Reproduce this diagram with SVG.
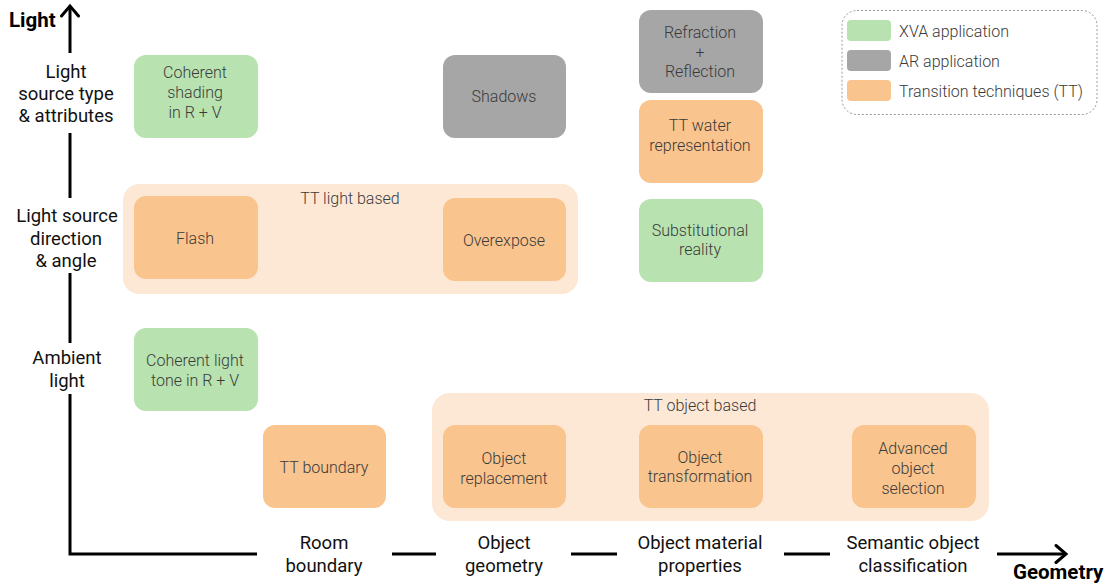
<svg xmlns="http://www.w3.org/2000/svg" width="1107" height="585" viewBox="0 0 1107 585">
<style>
text{font-family:Roboto,"Liberation Sans",sans-serif}
.n{font-size:16px;fill:#3a3a3a;text-anchor:middle;font-weight:300}
.ax{font-size:18.5px;fill:#111;text-anchor:middle}
.b{font-size:20.5px;font-weight:700;fill:#000}
.g{fill:#b8e2b0}
.a{fill:#a6a6a6}
.o{fill:#f9c48d}
.grp{fill:#fde8d6}
.axis{stroke:#000;stroke-width:3;fill:none}
.lg{font-size:16px;fill:#3a3a3a;font-weight:300}
</style>
<defs>
<marker id="ah" viewBox="0 0 20 20" refX="15" refY="10" markerWidth="20" markerHeight="20" markerUnits="userSpaceOnUse" orient="auto-start-reverse">
<path d="M5,1.5 L15,10 L5,18.5" fill="none" stroke="#000" stroke-width="3" stroke-linecap="round" stroke-linejoin="miter"/>
</marker>
</defs>
<rect width="1107" height="585" fill="#fff"/>
<g id="connectors">
<path class="axis" d="M70,53 V6" marker-end="url(#ah)"/>
<path class="axis" d="M70,133 V198"/>
<path class="axis" d="M70,273 V343"/>
<path class="axis" d="M70,394 V554 H257"/>
<path class="axis" d="M392,554 H436"/>
<path class="axis" d="M571,554 H617"/>
<path class="axis" d="M784,554 H830"/>
<path class="axis" d="M997,554 H1066" marker-end="url(#ah)"/>
</g>
<g id="axis-labels">
<text class="b" x="9" y="27">Light</text>
<text class="b" x="1013" y="579">Geometry</text>
<text class="ax" x="66" y="78">Light</text>
<text class="ax" x="66" y="100">source type</text>
<text class="ax" x="66" y="122">&amp; attributes</text>
<text class="ax" x="67" y="222">Light source</text>
<text class="ax" x="66" y="245">direction</text>
<text class="ax" x="66" y="267">&amp; angle</text>
<text class="ax" x="67" y="364">Ambient</text>
<text class="ax" x="67" y="387">light</text>
<text class="ax" x="324" y="549">Room</text>
<text class="ax" x="324" y="572">boundary</text>
<text class="ax" x="504" y="549">Object</text>
<text class="ax" x="504" y="572">geometry</text>
<text class="ax" x="700" y="549">Object material</text>
<text class="ax" x="700" y="572">properties</text>
<text class="ax" x="913" y="549">Semantic object</text>
<text class="ax" x="913" y="572">classification</text>
</g>
<g id="tt-light-based">
<rect class="grp" x="123" y="184" width="455" height="110" rx="16"/>
<text class="n" x="350" y="204">TT light based</text>
</g>
<g id="tt-object-based">
<rect class="grp" x="432" y="393" width="557" height="128" rx="18"/>
<text class="n" x="700" y="411">TT object  based</text>
</g>
<g id="coherent-shading">
<rect class="g" x="134" y="55" width="124" height="83" rx="12"/>
<text class="n" x="195" y="78">Coherent</text>
<text class="n" x="195" y="98">shading</text>
<text class="n" x="195" y="118">in R + V</text>
</g>
<g id="shadows">
<rect class="a" x="443" y="55" width="123" height="83" rx="12"/>
<text class="n" x="504" y="102">Shadows</text>
</g>
<g id="refraction">
<rect class="a" x="639" y="10" width="124" height="83" rx="12"/>
<text class="n" x="700" y="38">Refraction</text>
<text class="n" x="700" y="58">+</text>
<text class="n" x="700" y="77">Reflection</text>
</g>
<g id="tt-water">
<rect class="o" x="639" y="100" width="124" height="83" rx="12"/>
<text class="n" x="700" y="131">TT water</text>
<text class="n" x="700" y="151">representation</text>
</g>
<g id="flash">
<rect class="o" x="134" y="196" width="124" height="83" rx="12"/>
<text class="n" x="195" y="244">Flash</text>
</g>
<g id="overexpose">
<rect class="o" x="443" y="198" width="123" height="83" rx="12"/>
<text class="n" x="504" y="246">Overexpose</text>
</g>
<g id="substitutional">
<rect class="g" x="639" y="199" width="124" height="83" rx="12"/>
<text class="n" x="700" y="236">Substitutional</text>
<text class="n" x="700" y="255">reality</text>
</g>
<g id="coherent-light-tone">
<rect class="g" x="134" y="328" width="124" height="83" rx="12"/>
<text class="n" x="195" y="366">Coherent light</text>
<text class="n" x="195" y="386">tone in R + V</text>
</g>
<g id="tt-boundary">
<rect class="o" x="263" y="425" width="123" height="83" rx="12"/>
<text class="n" x="324" y="473">TT boundary</text>
</g>
<g id="object-replacement">
<rect class="o" x="443" y="425" width="123" height="83" rx="12"/>
<text class="n" x="504" y="464">Object</text>
<text class="n" x="504" y="484">replacement</text>
</g>
<g id="object-transformation">
<rect class="o" x="639" y="425" width="124" height="83" rx="12"/>
<text class="n" x="700" y="463">Object</text>
<text class="n" x="700" y="482">transformation</text>
</g>
<g id="advanced-object-selection">
<rect class="o" x="852" y="425" width="124" height="83" rx="12"/>
<text class="n" x="913" y="454">Advanced</text>
<text class="n" x="913" y="474">object</text>
<text class="n" x="913" y="494">selection</text>
</g>
<g id="legend">
<rect x="842" y="10.5" width="255" height="104" rx="15" fill="#fff" stroke="#999" stroke-dasharray="2,2" stroke-width="1"/>
<rect class="g" x="847" y="20" width="44" height="21" rx="4"/>
<rect class="a" x="847" y="50" width="44" height="21" rx="4"/>
<rect class="o" x="847" y="80" width="44" height="21" rx="4"/>
<text class="lg" x="899" y="37">XVA application</text>
<text class="lg" x="899" y="67">AR application</text>
<text class="lg" x="899" y="97">Transition techniques (TT)</text>
</g>
</svg>
